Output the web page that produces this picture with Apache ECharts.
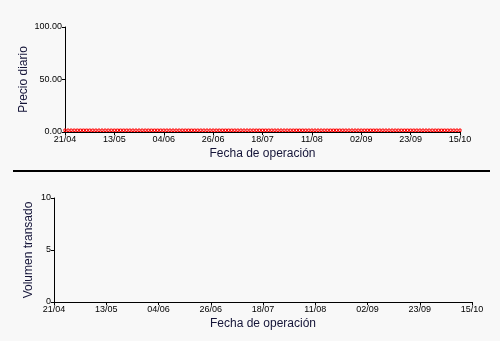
<!DOCTYPE html>
<html><head><meta charset="utf-8">
<script src="https://cdn.jsdelivr.net/npm/echarts@6/dist/echarts.min.js"></script>
<style>html,body{margin:0;padding:0;background:#f8f8f8}#c{width:500px;height:341px}</style>
</head><body><div id="c"></div>
<script>
const dates = [
'21/04','22/04','23/04','24/04','25/04','28/04','29/04','30/04','01/05','02/05',
'05/05','06/05','07/05','08/05','09/05','12/05','13/05','14/05','15/05','16/05',
'19/05','20/05','21/05','22/05','23/05','26/05','27/05','28/05','29/05','30/05',
'02/06','03/06','04/06','05/06','06/06','09/06','10/06','11/06','12/06','13/06',
'16/06','17/06','18/06','19/06','20/06','23/06','24/06','25/06','26/06','27/06',
'30/06','01/07','02/07','03/07','04/07','07/07','08/07','09/07','10/07','11/07',
'14/07','15/07','16/07','17/07','18/07','21/07','22/07','23/07','24/07','25/07',
'28/07','29/07','30/07','31/07','01/08','04/08','05/08','06/08','07/08','08/08',
'11/08','12/08','13/08','14/08','15/08','18/08','19/08','20/08','21/08','22/08',
'25/08','26/08','27/08','28/08','29/08','01/09','02/09','03/09','04/09','05/09',
'08/09','09/09','10/09','11/09','12/09','13/09','15/09','16/09','17/09','18/09',
'19/09','22/09','23/09','24/09','25/09','26/09','29/09','30/09','01/10','02/10',
'03/10','06/10','07/10','08/10','09/10','10/10','13/10','14/10','15/10'
];
const precio = [
3.3,3.3,3.3,3.3,3.3,3.3,3.3,3.3,3.3,3.3, 3.3,3.3,3.3,3.3,3.3,3.3,3.3,3.3,3.3,3.3,
3.3,3.3,3.3,3.3,3.3,3.3,3.3,3.3,3.3,3.3, 3.3,3.3,3.3,3.3,3.3,3.3,3.3,3.3,3.3,3.3,
3.3,3.3,3.3,3.3,3.3,3.3,3.3,3.3,3.3,3.3, 3.3,3.3,3.3,3.3,3.3,3.3,3.3,3.3,3.3,3.3,
3.3,3.3,3.3,3.3,3.3,3.3,3.3,3.3,3.3,3.3, 3.3,3.3,3.3,3.3,3.3,3.3,3.3,3.3,3.3,3.3,
3.3,3.3,3.3,3.3,3.3,3.3,3.3,3.3,3.3,3.3, 3.3,3.3,3.3,3.3,3.3,3.3,3.3,3.3,3.3,3.3,
3.3,3.3,3.3,3.3,3.3,3.3,3.3,3.3,3.3,3.3, 3.3,3.3,3.3,3.3,3.3,3.3,3.3,3.3,3.3,3.3,
3.3,3.3,3.3,3.3,3.3,3.3,3.3,3.3,3.3
];
const volumen = [];
const precioTicks = [0, 50, 100];
const volumenTicks = [0, 5, 10];

const chart = echarts.init(document.getElementById('c'));
const font = 'Liberation Sans, Arial, sans-serif';
const axisLbl = {color:'#000', fontSize:9, fontFamily:font};
const titleStyle = {color:'#141438', fontSize:12, fontFamily:font};
function xAxis(grid){
  return {type:'category', gridIndex:grid, data:dates, boundaryGap:false, z:5,
    name:'Fecha de operación', nameLocation:'middle', nameGap:16, nameMoveOverlap:false, nameTextStyle:titleStyle,
    axisLine:{lineStyle:{color:'#000', width:1}},
    axisTick:{show:true, interval:15, length:3, lineStyle:{color:'#000'}},
    axisLabel:Object.assign({interval:15, margin:3}, axisLbl),
    splitLine:{show:false}};
}
chart.setOption({
  backgroundColor:'#f8f8f8',
  animation:false,
  grid:[{left:65, right:40, top:27, bottom:209},
        {left:54, right:28, top:198, bottom:39}],
  xAxis:[xAxis(0), xAxis(1)],
  yAxis:[
    {type:'value', gridIndex:0, min:precioTicks[0], max:precioTicks[2], interval:precioTicks[1],
     name:'Precio diario', nameLocation:'middle', nameGap:35, nameMoveOverlap:false, nameTextStyle:titleStyle,
     axisLine:{show:true, lineStyle:{color:'#000'}},
     axisTick:{show:true, length:3, lineStyle:{color:'#000'}},
     axisLabel:Object.assign({margin:3, formatter:v=>v.toFixed(2)}, axisLbl),
     splitLine:{show:false}},
    {type:'value', gridIndex:1, min:volumenTicks[0], max:volumenTicks[2], interval:volumenTicks[1],
     name:'Volumen transado', nameLocation:'middle', nameGap:19, nameMoveOverlap:false, nameTextStyle:titleStyle,
     axisLine:{show:true, lineStyle:{color:'#000'}},
     axisTick:{show:true, length:3, lineStyle:{color:'#000'}},
     axisLabel:Object.assign({margin:3}, axisLbl),
     splitLine:{show:false}}
  ],
  series:[
    {type:'bar', xAxisIndex:0, yAxisIndex:0, data:precio, barCategoryGap:'0%', z:2,
     itemStyle:{color:'rgba(0,0,0,0)', borderColor:'#ff0000', borderWidth:1}},
    {type:'bar', xAxisIndex:1, yAxisIndex:1, data:volumen}
  ],
  graphic:[{type:'rect', shape:{x:13, y:170, width:477, height:2}, style:{fill:'#000'}}]
});
</script></body></html>
